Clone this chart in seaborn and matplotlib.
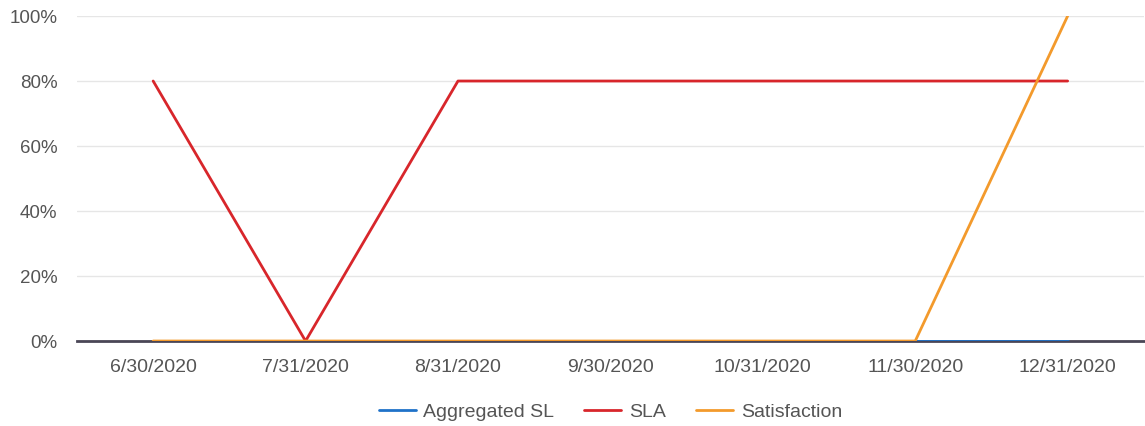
import matplotlib
matplotlib.use("Agg")
import matplotlib.pyplot as plt
import seaborn as sns
import pandas as pd
from matplotlib.ticker import FuncFormatter

dates = ["6/30/2020", "7/31/2020", "8/31/2020", "9/30/2020", "10/31/2020", "11/30/2020", "12/31/2020"]
aggregated_sl = [0, 0, 0, 0, 0, 0, 0]
sla = [80, 0, 80, 80, 80, 80, 80]
satisfaction = [0, 0, 0, 0, 0, 0, 100]
series_names = ["Aggregated SL", "SLA", "Satisfaction"]
colors = ["#1f72c9", "#d8262b", "#f39a2c"]

rows = []
for name, vals in zip(series_names, [aggregated_sl, sla, satisfaction]):
    for i, (d, v) in enumerate(zip(dates, vals)):
        rows.append({"idx": i, "date": d, "value": v, "series": name})
df = pd.DataFrame(rows)

sns.set_theme(style="white")
plt.rcParams['font.family'] = ['Liberation Sans', 'DejaVu Sans']

fig = plt.figure(figsize=(11.45, 4.26), dpi=100)
ax = fig.add_axes([0.0672, 0.1995, 0.9318, 0.7629])

sns.lineplot(data=df, x="idx", y="value", hue="series", hue_order=series_names,
             palette=colors, linewidth=2, ax=ax, legend=True, zorder=3)

ax.set_xlim(-0.5, len(dates) - 0.5)
ax.set_ylim(0, 100)
ax.set_xticks(range(len(dates)))
ax.set_xticklabels(dates)
ax.set_yticks([0, 20, 40, 60, 80, 100])
ax.yaxis.set_major_formatter(FuncFormatter(lambda v, p: f"{int(v)}%"))
ax.grid(axis="y", color="#e6e6e6", linewidth=1)
ax.set_axisbelow(True)
for s in ["top", "right", "left"]:
    ax.spines[s].set_visible(False)
ax.spines["bottom"].set_color("#4a4656")
ax.spines["bottom"].set_linewidth(2)
ax.spines["bottom"].set_zorder(1)
ax.tick_params(axis="both", length=0, colors="#555555")
ax.tick_params(axis="x", pad=13, labelsize=14)
ax.tick_params(axis="y", pad=14, labelsize=13.5)
ax.set_xlabel("")
ax.set_ylabel("")

handles, labels = ax.get_legend_handles_labels()
ax.legend(handles, labels, loc="center", bbox_to_anchor=(0.5, -0.218), ncol=3,
          frameon=False, fontsize=14, labelcolor="#555555", handlelength=1.9,
          columnspacing=1.55, handletextpad=0.4)

fig.savefig("out.png", dpi=100)
